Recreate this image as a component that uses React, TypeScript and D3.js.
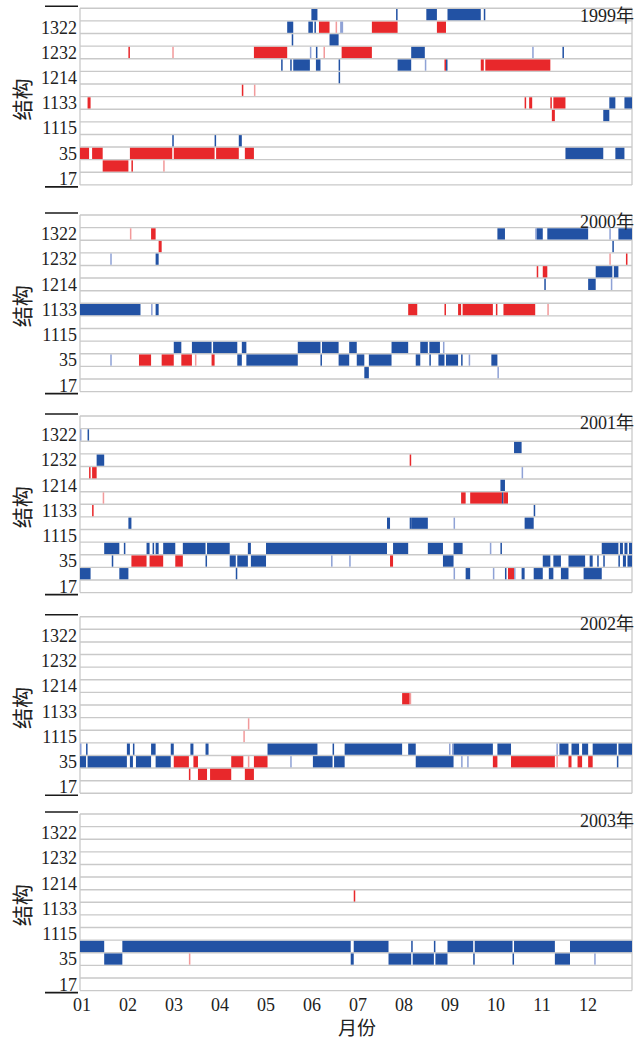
import React, { useRef, useEffect } from 'react';
import * as d3 from 'd3';

// [row, startDay, endDay, kind]  kind: r = red, b = blue, rl / bl = pale single days
type Seg = [number, number, number, string];

const years = ['1999年', '2000年', '2001年', '2002年', '2003年'];
const rowLabels = ['', '1322', '', '1232', '', '1214', '', '1133', '', '1115', '', '35', '', '17'];
const months = ['01', '02', '03', '04', '05', '06', '07', '08', '09', '10', '11', '12'];

const seg1999: Seg[] = [
  [0, 153, 157, 'b'], [0, 209, 210, 'b'], [0, 229, 236, 'b'], [0, 243, 265, 'b'], [0, 267, 268, 'b'],
  [1, 137, 141, 'b'], [1, 151, 154, 'b'], [1, 155, 156, 'b'], [1, 158, 165, 'r'], [1, 169, 170, 'rl'],
  [1, 172, 174, 'bl'], [1, 193, 210, 'r'], [1, 236, 242, 'r'],
  [2, 140, 141, 'b'], [2, 165, 171, 'b'],
  [3, 32, 33, 'r'], [3, 61, 62, 'rl'], [3, 115, 137, 'r'], [3, 152, 153, 'bl'], [3, 156, 157, 'b'],
  [3, 161, 162, 'rl'], [3, 173, 193, 'r'], [3, 219, 228, 'b'], [3, 299, 300, 'bl'], [3, 319, 320, 'b'],
  [4, 133, 134, 'b'], [4, 139, 140, 'b'], [4, 141, 152, 'b'], [4, 156, 159, 'b'], [4, 171, 172, 'b'],
  [4, 210, 219, 'b'], [4, 228, 229, 'bl'], [4, 241, 242, 'r'], [4, 242, 243, 'b'], [4, 265, 267, 'r'],
  [4, 268, 311, 'r'],
  [5, 171, 172, 'b'],
  [6, 107, 108, 'r'], [6, 115, 116, 'rl'],
  [7, 5, 7, 'r'], [7, 294, 295, 'r'], [7, 297, 299, 'r'], [7, 311, 312, 'r'], [7, 313, 321, 'r'],
  [7, 350, 354, 'b'], [7, 360, 365, 'b'],
  [8, 312, 314, 'r'], [8, 346, 350, 'b'],
  [10, 61, 62, 'b'], [10, 89, 90, 'b'], [10, 105, 107, 'b'],
  [11, 0, 6, 'r'], [11, 8, 15, 'r'], [11, 33, 61, 'r'], [11, 62, 89, 'r'], [11, 90, 105, 'r'],
  [11, 109, 115, 'r'], [11, 321, 346, 'b'], [11, 354, 360, 'b'],
  [12, 15, 32, 'r'], [12, 34, 35, 'r'], [12, 55, 56, 'rl'],
];

const seg2000: Seg[] = [
  [1, 33, 34, 'rl'], [1, 47, 50, 'r'], [1, 276, 281, 'b'], [1, 301, 302, 'bl'], [1, 302, 306, 'b'],
  [1, 309, 336, 'b'], [1, 350, 351, 'bl'], [1, 356, 365, 'b'],
  [2, 52, 54, 'r'], [2, 352, 353, 'b'],
  [3, 20, 21, 'bl'], [3, 50, 52, 'b'], [3, 350, 351, 'rl'], [3, 361, 362, 'r'],
  [4, 302, 303, 'r'], [4, 306, 309, 'r'], [4, 341, 352, 'b'], [4, 353, 356, 'b'],
  [5, 307, 308, 'b'], [5, 336, 341, 'b'], [5, 351, 352, 'bl'],
  [7, 0, 40, 'b'], [7, 47, 48, 'bl'], [7, 50, 52, 'b'], [7, 217, 223, 'r'], [7, 241, 242, 'r'],
  [7, 250, 252, 'r'], [7, 253, 273, 'r'], [7, 275, 276, 'r'], [7, 280, 301, 'r'], [7, 309, 310, 'rl'],
  [10, 62, 67, 'b'], [10, 74, 87, 'b'], [10, 88, 104, 'b'], [10, 107, 110, 'b'], [10, 144, 159, 'b'],
  [10, 160, 171, 'b'], [10, 178, 183, 'b'], [10, 206, 217, 'b'], [10, 225, 230, 'b'], [10, 231, 238, 'b'],
  [10, 240, 241, 'bl'],
  [11, 20, 21, 'bl'], [11, 39, 47, 'r'], [11, 54, 62, 'r'], [11, 67, 74, 'r'], [11, 76, 77, 'rl'],
  [11, 87, 89, 'r'], [11, 104, 107, 'b'], [11, 110, 144, 'b'], [11, 159, 160, 'b'], [11, 171, 178, 'b'],
  [11, 183, 188, 'b'], [11, 191, 206, 'b'], [11, 222, 225, 'b'], [11, 231, 232, 'b'], [11, 237, 241, 'b'],
  [11, 242, 250, 'b'], [11, 252, 253, 'b'], [11, 257, 258, 'bl'], [11, 272, 276, 'b'],
  [12, 188, 191, 'b'], [12, 276, 277, 'bl'],
];

const seg2001: Seg[] = [
  [1, 0, 1, 'bl'], [1, 5, 6, 'b'],
  [2, 287, 292, 'b'],
  [3, 11, 16, 'b'], [3, 218, 219, 'r'],
  [4, 6, 7, 'r'], [4, 8, 11, 'r'], [4, 292, 293, 'bl'],
  [5, 278, 281, 'b'],
  [6, 15, 16, 'rl'], [6, 252, 255, 'r'], [6, 258, 279, 'r'], [6, 279, 280, 'b'], [6, 280, 283, 'r'],
  [7, 8, 9, 'r'], [7, 300, 301, 'b'],
  [8, 32, 34, 'b'], [8, 203, 205, 'b'], [8, 218, 219, 'b'], [8, 219, 230, 'b'], [8, 247, 248, 'bl'],
  [8, 294, 300, 'b'],
  [10, 16, 26, 'b'], [10, 29, 30, 'b'], [10, 44, 46, 'b'], [10, 48, 49, 'b'], [10, 50, 52, 'b'],
  [10, 55, 63, 'b'], [10, 68, 83, 'b'], [10, 84, 99, 'b'], [10, 111, 113, 'b'], [10, 123, 203, 'b'],
  [10, 207, 217, 'b'], [10, 230, 240, 'b'], [10, 247, 253, 'b'], [10, 271, 272, 'bl'], [10, 278, 279, 'b'],
  [10, 345, 356, 'b'], [10, 357, 359, 'b'], [10, 360, 362, 'b'], [10, 363, 365, 'b'],
  [11, 21, 22, 'b'], [11, 34, 44, 'r'], [11, 46, 55, 'r'], [11, 63, 68, 'r'], [11, 83, 84, 'b'],
  [11, 99, 103, 'b'], [11, 104, 111, 'b'], [11, 113, 123, 'b'], [11, 166, 167, 'bl'], [11, 178, 179, 'bl'],
  [11, 205, 207, 'r'], [11, 240, 247, 'b'], [11, 306, 311, 'b'], [11, 313, 318, 'b'], [11, 323, 334, 'b'],
  [11, 337, 339, 'b'], [11, 342, 343, 'b'], [11, 346, 347, 'b'], [11, 356, 357, 'b'], [11, 359, 361, 'b'],
  [11, 362, 365, 'b'],
  [12, 0, 7, 'b'], [12, 26, 32, 'b'], [12, 103, 104, 'b'], [12, 247, 248, 'bl'], [12, 255, 258, 'b'],
  [12, 273, 274, 'bl'], [12, 281, 282, 'b'], [12, 283, 287, 'r'], [12, 287, 288, 'bl'], [12, 292, 294, 'b'],
  [12, 300, 306, 'b'], [12, 310, 313, 'b'], [12, 318, 323, 'b'], [12, 333, 345, 'b'],
];

const seg2002: Seg[] = [
  [6, 213, 218, 'r'], [6, 218, 219, 'rl'],
  [8, 111, 112, 'rl'],
  [9, 108, 109, 'rl'],
  [10, 0, 1, 'bl'], [10, 4, 5, 'b'], [10, 31, 33, 'b'], [10, 35, 36, 'b'], [10, 47, 50, 'b'],
  [10, 60, 62, 'b'], [10, 73, 75, 'b'], [10, 83, 85, 'b'], [10, 124, 157, 'b'], [10, 167, 168, 'b'],
  [10, 175, 213, 'b'], [10, 217, 222, 'b'], [10, 244, 245, 'bl'], [10, 246, 247, 'bl'], [10, 247, 273, 'b'],
  [10, 276, 285, 'b'], [10, 315, 316, 'bl'], [10, 317, 323, 'b'], [10, 325, 330, 'b'], [10, 332, 336, 'b'],
  [10, 339, 355, 'b'], [10, 356, 365, 'b'],
  [11, 0, 4, 'b'], [11, 5, 31, 'b'], [11, 33, 35, 'b'], [11, 37, 47, 'b'], [11, 50, 60, 'b'],
  [11, 62, 72, 'r'], [11, 75, 78, 'r'], [11, 100, 108, 'r'], [11, 111, 112, 'rl'], [11, 115, 124, 'r'],
  [11, 139, 140, 'bl'], [11, 154, 167, 'b'], [11, 168, 175, 'b'], [11, 222, 247, 'b'], [11, 252, 253, 'bl'],
  [11, 256, 257, 'bl'], [11, 273, 276, 'r'], [11, 285, 314, 'r'], [11, 315, 316, 'rl'], [11, 323, 325, 'r'],
  [11, 329, 332, 'r'], [11, 336, 339, 'r'], [11, 355, 356, 'b'],
  [12, 72, 73, 'r'], [12, 78, 84, 'r'], [12, 86, 100, 'r'], [12, 109, 115, 'r'],
];

const seg2003: Seg[] = [
  [6, 181, 182, 'r'],
  [10, 0, 16, 'b'], [10, 28, 179, 'b'], [10, 181, 204, 'b'], [10, 219, 220, 'b'], [10, 234, 235, 'b'],
  [10, 243, 260, 'b'], [10, 261, 286, 'b'], [10, 287, 314, 'b'], [10, 324, 365, 'b'],
  [11, 16, 28, 'b'], [11, 72, 73, 'rl'], [11, 179, 181, 'b'], [11, 204, 219, 'b'], [11, 220, 234, 'b'],
  [11, 235, 243, 'b'], [11, 260, 261, 'b'], [11, 286, 287, 'b'], [11, 314, 324, 'b'], [11, 340, 341, 'bl'],
];

const segments = [seg1999, seg2000, seg2001, seg2002, seg2003];

const colors: Record<string, string> = { r: '#e8282b', b: '#2252a4', rl: '#f29a9b', bl: '#8fa2d6' };

const App = () => {
  const svgRef = useRef<SVGSVGElement>(null);

  useEffect(() => {
    const svg = d3.select(svgRef.current);
    svg.selectAll('*').remove();

    const left = 80;
    const right = 632;
    const panelH = 176.6;
    const tops = [8.3, 215, 416, 616.7, 814];
    const serif = "'Liberation Serif', 'Noto Sans CJK SC', serif";

    const x = d3.scaleLinear().domain([0, 365]).range([left, right]);
    const y = d3.scaleLinear().domain([0, rowLabels.length]).range([0, panelH]);
    const bh = y(1) - y(0);

    years.forEach((year, p) => {
      const g = svg.append('g').attr('transform', `translate(0,${tops[p]})`);

      // grid rows
      g.selectAll('.grid')
        .data(d3.range(rowLabels.length + 1))
        .enter().append('line')
        .attr('x1', left).attr('x2', right)
        .attr('y1', d => y(d)).attr('y2', d => y(d))
        .attr('stroke', '#c9c9c9').attr('stroke-width', 1.4);

      [left, right].forEach(xx => {
        g.append('line')
          .attr('x1', xx).attr('x2', xx).attr('y1', 0).attr('y2', panelH)
          .attr('stroke', '#c9c9c9').attr('stroke-width', 1.3);
      });

      // structure segments
      g.selectAll('.seg')
        .data(segments[p])
        .enter().append('rect')
        .attr('x', d => x(d[1]))
        .attr('width', d => Math.max(x(d[2]) - x(d[1]), 1.4))
        .attr('y', d => y(d[0]) + 0.7)
        .attr('height', bh - 1.4)
        .attr('fill', d => colors[d[3]]);

      // short black marks at top and bottom of the axis
      [-2, panelH + 2].forEach(yy => {
        g.append('line')
          .attr('x1', 45).attr('x2', 78).attr('y1', yy).attr('y2', yy)
          .attr('stroke', '#1a1a1a').attr('stroke-width', 1.6);
      });

      g.selectAll('.lab')
        .data(rowLabels.map((l, i) => ({ l, i })).filter(d => d.l))
        .enter().append('text')
        .attr('x', 77)
        .attr('y', d => y(d.i) + bh / 2)
        .attr('dy', '0.35em')
        .attr('text-anchor', 'end')
        .style('font-family', serif).style('font-size', '18px').attr('fill', '#222')
        .text(d => d.l);

      g.append('text')
        .attr('transform', `translate(23,${panelH / 2 + 3}) rotate(-90)`)
        .attr('text-anchor', 'middle').attr('dy', '0.35em')
        .style('font-family', serif).style('font-size', '21px').attr('fill', '#222')
        .text('结构');

      g.append('text')
        .attr('x', 634).attr('y', 7).attr('dy', '0.35em')
        .attr('text-anchor', 'end')
        .style('font-family', serif).style('font-size', '18px').attr('fill', '#222')
        .text(year);
    });

    // month axis
    svg.selectAll('.month')
      .data(months)
      .enter().append('text')
      .attr('x', (d, i) => x((i * 365) / 12) + 2)
      .attr('y', 1005).attr('dy', '0.35em')
      .attr('text-anchor', 'middle')
      .style('font-family', serif).style('font-size', '18px').attr('fill', '#222')
      .text(d => d);

    svg.append('text')
      .attr('x', 357).attr('y', 1028).attr('dy', '0.35em')
      .attr('text-anchor', 'middle')
      .style('font-family', serif).style('font-size', '19px').attr('fill', '#222')
      .text('月份');
  }, []);

  return (
    <div style={{ position: 'absolute', left: 0, top: 0, width: '634px', height: '1039px', background: '#fff' }}>
      <svg ref={svgRef} width={634} height={1039}></svg>
    </div>
  );
};

export default App;
